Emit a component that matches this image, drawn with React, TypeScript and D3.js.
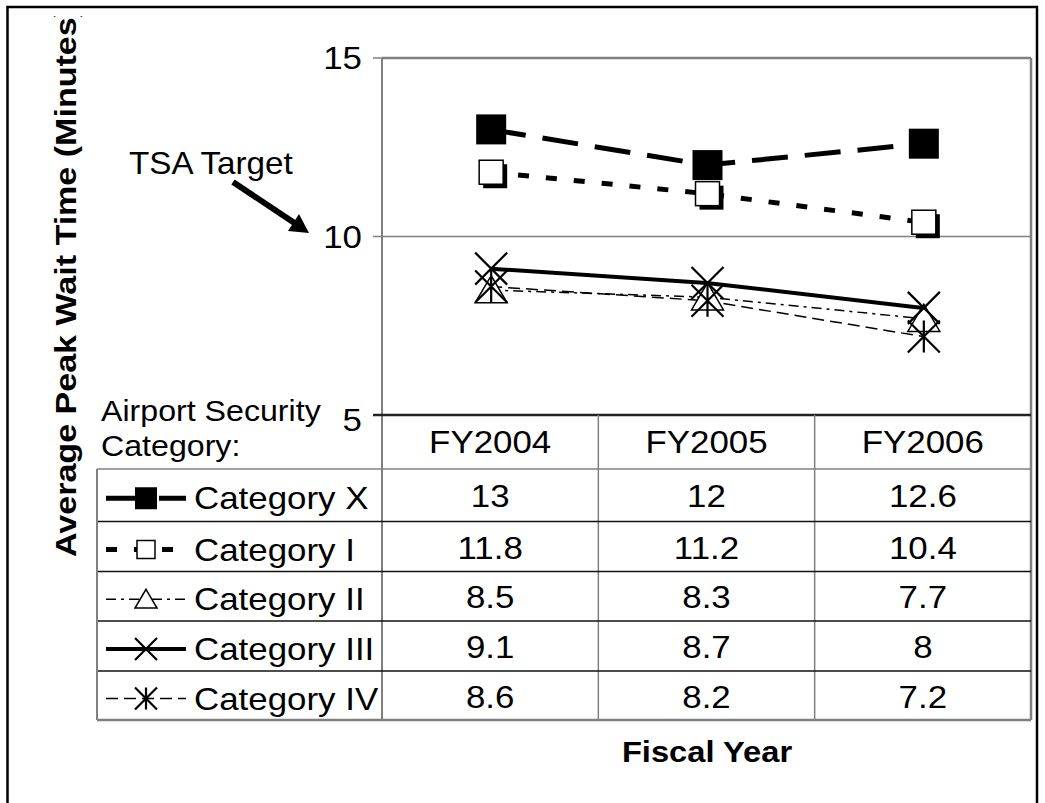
import React from "react";
import * as d3 from "d3";

// ---------- data ----------
const years = ["FY2004", "FY2005", "FY2006"];
const seriesNames = ["Category X", "Category I", "Category II", "Category III", "Category IV"];
const catX = [13, 12, 12.6];
const catI = [11.8, 11.2, 10.4];
const catII = [8.5, 8.3, 7.7];
const catIII = [9.1, 8.7, 8];
const catIV = [8.6, 8.2, 7.2];
const yTicks = [5, 10, 15];
const seriesValues = [catX, catI, catII, catIII, catIV];

// ---------- styles ----------
type Marker = "filledSquare" | "openSquare" | "triangle" | "cross" | "asterisk";
const styles: { width: number; dash: string; marker: Marker }[] = [
  { width: 5, dash: "36,17", marker: "filledSquare" },
  { width: 5, dash: "11,17", marker: "openSquare" },
  { width: 1.5, dash: "10,5,3,5", marker: "triangle" },
  { width: 4, dash: "", marker: "cross" },
  { width: 1.5, dash: "12,6", marker: "asterisk" },
];

const FONT = "'Liberation Sans', Arial, Helvetica, sans-serif";
const W = 1045;
const H = 803;
const P = { left: 382, right: 1031, top: 58, bottom: 415 };
const legendLeft = 97;
const rowEdges = [469, 521.5, 571.5, 621, 671, 720];
const GRAY = "#808080";
const SX = 1.09;

function T({
  x,
  y,
  size = 32,
  anchor = "start",
  bold = false,
  children,
}: {
  x: number;
  y: number;
  size?: number;
  anchor?: string;
  bold?: boolean;
  children: React.ReactNode;
}) {
  return (
    <text
      transform={`translate(${x},${y}) scale(${SX},1)`}
      fontSize={size}
      textAnchor={anchor}
      fontWeight={bold ? "bold" : "normal"}
    >
      {children}
    </text>
  );
}

function MarkerShape({ kind, cx, cy, s }: { kind: Marker; cx: number; cy: number; s: number }) {
  const h = s / 2;
  switch (kind) {
    case "filledSquare":
      return <rect x={cx - h} y={cy - h} width={s} height={s} fill="#000" />;
    case "openSquare":
      return (
        <g>
          {s > 20 && <rect x={cx - h + 4} y={cy - h + 4} width={s} height={s} fill="#000" />}
          <rect x={cx - h} y={cy - h} width={s} height={s} fill="#fff" stroke="#000" strokeWidth={1.5} />
        </g>
      );
    case "triangle":
      return (
        <path
          d={`M${cx},${cy - h * 0.9}L${cx + h},${cy + h * 0.8}L${cx - h},${cy + h * 0.8}Z`}
          fill="#fff"
          stroke="#000"
          strokeWidth={1.5}
        />
      );
    case "cross":
      return (
        <path
          d={`M${cx - h},${cy - h}L${cx + h},${cy + h}M${cx + h},${cy - h}L${cx - h},${cy + h}`}
          stroke="#000"
          strokeWidth={2.2}
        />
      );
    case "asterisk":
      return (
        <path
          d={`M${cx - h},${cy - h}L${cx + h},${cy + h}M${cx + h},${cy - h}L${cx - h},${cy + h}M${cx},${cy - h}L${cx},${cy + h}`}
          stroke="#000"
          strokeWidth={2.2}
        />
      );
  }
}

export default function App() {
  const x = d3.scaleBand<string>().domain(years).range([P.left, P.right]).padding(0);
  const y = d3.scaleLinear().domain([5, 15]).range([P.bottom, P.top]);
  const cx = (yr: string) => (x(yr) as number) + x.bandwidth() / 2;
  const line = d3
    .line<number>()
    .x((_, i) => cx(years[i]))
    .y((d) => y(d));

  const rowMid = (i: number) => (rowEdges[i] + rowEdges[i + 1]) / 2;

  return (
    <div style={{ position: "absolute", left: 0, top: 0 }}>
      <svg width={W} height={H} style={{ display: "block", background: "#fff" }} fontFamily={FONT}>
        <defs>
          <clipPath id="titleClip">
            <rect x={0} y={16} width={200} height={H} />
          </clipPath>
        </defs>
        <rect x={0} y={0} width={W} height={H} fill="#fff" />
        {/* outer frame */}
        <rect x={7.5} y={7} width={1029.5} height={830} fill="none" stroke="#000" strokeWidth={2.5} />

        {/* y axis title */}
        <g clipPath="url(#titleClip)">
          <text
            transform="translate(76,557) rotate(-90)"
            fontSize={29}
            fontWeight="bold"
            textLength={551}
            lengthAdjust="spacingAndGlyphs"
          >
            Average Peak Wait Time (Minutes)
          </text>
        </g>

        {/* gridline at 10 */}
        <line x1={P.left} x2={P.right} y1={y(10)} y2={y(10)} stroke={GRAY} strokeWidth={1.5} />

        {/* plot border */}
        <line x1={P.left} x2={P.right} y1={P.top} y2={P.top} stroke={GRAY} strokeWidth={2.5} />
        <line x1={P.right} x2={P.right} y1={P.top} y2={rowEdges[5]} stroke={GRAY} strokeWidth={2.5} />
        <line x1={P.left} x2={P.left} y1={P.top} y2={rowEdges[5]} stroke={GRAY} strokeWidth={2} />

        {/* y ticks & labels */}
        {yTicks.map((t) => (
          <g key={t}>
            <line x1={P.left - 9} x2={P.left} y1={y(t)} y2={y(t)} stroke={GRAY} strokeWidth={1.5} />
            <T x={362} y={y(t) + (t === 5 ? 16 : 11)} size={32} anchor="end">
              {t}
            </T>
          </g>
        ))}

        {/* TSA target annotation */}
        <T x={129} y={174} size={30.5}>
          TSA Target
        </T>
        <line x1={233} y1={182} x2={296} y2={224} stroke="#000" strokeWidth={6} />
        <polygon points="309,233 288,231 299,214" fill="#000" />

        {/* series lines */}
        {seriesValues.map((vals, i) => (
          <path
            key={"l" + i}
            d={line(vals) as string}
            fill="none"
            stroke="#000"
            strokeWidth={styles[i].width}
            strokeDasharray={styles[i].dash || undefined}
          />
        ))}
        {/* series markers */}
        {seriesValues.map((vals, i) =>
          vals.map((v, j) => (
            <MarkerShape
              key={"m" + i + j}
              kind={styles[i].marker}
              cx={cx(years[j]) + 1}
              cy={y(v)}
              s={styles[i].marker === "filledSquare" ? 30 : styles[i].marker === "openSquare" ? 24 : 32}
            />
          ))
        )}

        {/* data table */}
        <line x1={P.left - 9} x2={P.right} y1={P.bottom} y2={P.bottom} stroke="#222" strokeWidth={2.5} />
        {years.map((yr, j) => (
          <g key={yr}>
            {j > 0 && (
              <line x1={x(yr)} x2={x(yr)} y1={P.bottom} y2={rowEdges[5]} stroke={GRAY} strokeWidth={1.5} />
            )}
            <T x={cx(yr)} y={453} anchor="middle">
              {yr}
            </T>
          </g>
        ))}
        <T x={101} y={421} size={29.5}>
          Airport Security
        </T>
        <T x={101} y={456} size={29.5}>
          Category:
        </T>
        {/* header bottom / legend top */}
        <line x1={legendLeft} x2={P.right} y1={rowEdges[0]} y2={rowEdges[0]} stroke={GRAY} strokeWidth={1.5} />
        {rowEdges.slice(1, 5).map((e, k) => (
          <line key={"r" + k} x1={legendLeft} x2={P.right} y1={e} y2={e} stroke="#111" strokeWidth={1.5} />
        ))}
        <line x1={legendLeft} x2={P.right} y1={rowEdges[5]} y2={rowEdges[5]} stroke={GRAY} strokeWidth={2.5} />
        <line x1={legendLeft} x2={legendLeft} y1={rowEdges[0]} y2={rowEdges[5]} stroke={GRAY} strokeWidth={2} />

        {seriesNames.map((name, i) => {
          const my = rowMid(i) + 3;
          return (
            <g key={name}>
              <line
                x1={106}
                x2={186}
                y1={my}
                y2={my}
                stroke="#000"
                strokeWidth={styles[i].width}
                strokeDasharray={styles[i].dash || undefined}
              />
              <MarkerShape kind={styles[i].marker} cx={146} cy={my} s={styles[i].marker === "openSquare" ? 18 : 22} />
              <T x={194} y={rowMid(i) + 14}>
                {name}
              </T>
              {seriesValues[i].map((v, j) => (
                <T key={j} x={cx(years[j])} y={rowMid(i) + 12} anchor="middle">
                  {String(v)}
                </T>
              ))}
            </g>
          );
        })}

        {/* x axis title */}
        <T x={707} y={762} size={30} anchor="middle" bold>
          Fiscal Year
        </T>
      </svg>
    </div>
  );
}
